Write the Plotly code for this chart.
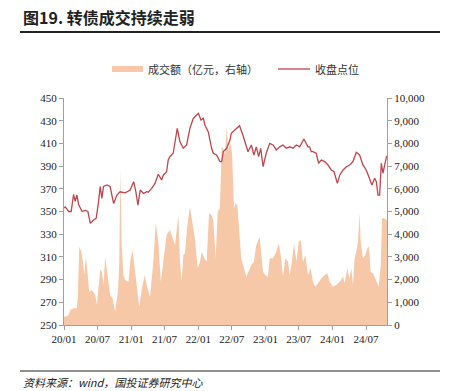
import plotly.graph_objects as go

# ---- Data: closing index level (left axis) ----
idx_dates = [
    "2020-01-01", "2020-01-08", "2020-01-26", "2020-02-09", "2020-02-22", "2020-03-02", "2020-03-11",
    "2020-03-21", "2020-04-08", "2020-04-26", "2020-05-10", "2020-05-23", "2020-06-10", "2020-06-24",
    "2020-07-07", "2020-07-16", "2020-07-25", "2020-08-03", "2020-08-21", "2020-09-08", "2020-09-27",
    "2020-10-15", "2020-11-01", "2020-11-29", "2020-12-26", "2021-01-14", "2021-01-26", "2021-02-06",
    "2021-02-19", "2021-03-09", "2021-03-27", "2021-04-03", "2021-04-22", "2021-05-10", "2021-05-28",
    "2021-06-15", "2021-06-24", "2021-07-12", "2021-07-21", "2021-07-30", "2021-08-17", "2021-08-27",
    "2021-09-08", "2021-09-23", "2021-10-11", "2021-10-29", "2021-11-16", "2021-12-04", "2021-12-23",
    "2022-01-01", "2022-01-15", "2022-01-28", "2022-02-06", "2022-02-24", "2022-03-14", "2022-03-23",
    "2022-04-10", "2022-04-28", "2022-05-08", "2022-05-16", "2022-06-04", "2022-06-22", "2022-06-29",
    "2022-07-17", "2022-08-13", "2022-08-31", "2022-09-18", "2022-09-28", "2022-10-16", "2022-10-30",
    "2022-11-12", "2022-11-25", "2022-12-06", "2022-12-19", "2023-01-05", "2023-01-24", "2023-02-11",
    "2023-03-01", "2023-03-19", "2023-04-06", "2023-04-24", "2023-05-13", "2023-05-31", "2023-06-18",
    "2023-07-06", "2023-07-29", "2023-08-20", "2023-08-29", "2023-09-07", "2023-09-16", "2023-10-04",
    "2023-10-17", "2023-11-01", "2023-11-19", "2023-12-07", "2023-12-25", "2024-01-09", "2024-01-27",
    "2024-02-09", "2024-02-27", "2024-03-16", "2024-04-03", "2024-04-21", "2024-05-09", "2024-05-27",
    "2024-06-14", "2024-07-02", "2024-07-21", "2024-08-02", "2024-08-17", "2024-08-26", "2024-09-04",
    "2024-09-13", "2024-09-22", "2024-10-01", "2024-10-21",
]
idx_values = [
    353, 354, 350, 350, 365, 359, 364.5,
    356, 350, 351, 350, 339.6, 342.5, 344,
    358.7, 372, 361.6, 372, 373.4, 372, 357,
    364.5, 367.4, 366.5, 369, 376.3, 367.4, 355.7,
    369, 366, 367.4, 367, 370.4, 374.8, 382.8,
    377.8, 382, 385, 395.4, 398.3, 401.3, 410,
    423.3, 411.5, 405.7, 408.6, 423.3, 432, 435,
    436.5, 430.6, 432, 426, 420, 405.7, 401.3,
    399.8, 394, 394, 402.7, 405.7, 413, 418.9,
    421.8, 425.6, 417.4, 408.6, 402.7, 408.6, 399.8,
    407, 398.3, 405.7, 389.5, 401.3, 410, 408.6,
    404.2, 407, 408.6, 405.7, 407, 405.7, 408.6,
    407, 413.9, 407, 407, 402.7, 402.7, 401.3,
    392.5, 395.4, 394, 391, 386.6, 385, 374.8,
    382, 386.6, 389.5, 391, 394, 402.2, 399.8,
    391, 386.6, 379.3, 373.4, 379.3, 376.3, 364.5,
    364.5, 392.5, 383.7, 399,
]

# ---- Data: turnover, 100 million yuan (right axis) ----
vol_dates = [
    "2020-01-01", "2020-01-08", "2020-01-26", "2020-02-04", "2020-02-22", "2020-03-11", "2020-03-17",
    "2020-03-24", "2020-04-04", "2020-04-13", "2020-04-20", "2020-04-29", "2020-05-09", "2020-05-17",
    "2020-06-01", "2020-06-19", "2020-06-28", "2020-07-07", "2020-07-16", "2020-07-25", "2020-08-03",
    "2020-08-12", "2020-08-21", "2020-08-30", "2020-09-08", "2020-09-21", "2020-10-05", "2020-10-20",
    "2020-10-27", "2020-11-03", "2020-11-10", "2020-11-19", "2020-11-28", "2020-12-17", "2020-12-26",
    "2021-01-08", "2021-01-19", "2021-02-01", "2021-02-13", "2021-02-28", "2021-03-15", "2021-03-26",
    "2021-04-13", "2021-05-01", "2021-05-14", "2021-05-28", "2021-06-11", "2021-06-24", "2021-07-12",
    "2021-07-30", "2021-08-08", "2021-08-27", "2021-09-14", "2021-09-23", "2021-10-02", "2021-10-11",
    "2021-10-20", "2021-11-01", "2021-11-16", "2021-11-25", "2021-12-13", "2021-12-28", "2022-01-10",
    "2022-01-19", "2022-02-02", "2022-02-15", "2022-02-28", "2022-03-14", "2022-03-23", "2022-04-05",
    "2022-04-16", "2022-04-28", "2022-05-08", "2022-05-16", "2022-05-26", "2022-06-04", "2022-06-13",
    "2022-06-22", "2022-07-03", "2022-07-14", "2022-07-21", "2022-08-01", "2022-08-13", "2022-08-22",
    "2022-09-06", "2022-09-18", "2022-10-01", "2022-10-16", "2022-10-30", "2022-11-12", "2022-11-30",
    "2022-12-09", "2022-12-19", "2022-12-31", "2023-01-14", "2023-01-24", "2023-02-11", "2023-03-01",
    "2023-03-14", "2023-03-25", "2023-04-06", "2023-04-19", "2023-05-04", "2023-05-13", "2023-05-25",
    "2023-06-05", "2023-06-18", "2023-07-01", "2023-07-12", "2023-07-24", "2023-08-06", "2023-08-20",
    "2023-09-04", "2023-09-16", "2023-09-29", "2023-10-14", "2023-11-01", "2023-11-19", "2023-12-03",
    "2023-12-16", "2024-01-03", "2024-01-21", "2024-02-09", "2024-02-27", "2024-03-07", "2024-03-21",
    "2024-04-01", "2024-04-12", "2024-04-21", "2024-04-30", "2024-05-09", "2024-05-18", "2024-05-27",
    "2024-06-02", "2024-06-14", "2024-06-27", "2024-07-08", "2024-07-17", "2024-07-26", "2024-08-08",
    "2024-08-26", "2024-09-08", "2024-09-19", "2024-09-26", "2024-10-07", "2024-10-23",
]
vol_values = [
    366, 366, 440, 661, 734, 734, 1321,
    3450, 3230, 2790, 2200, 3010, 2200, 1470,
    1540, 1320, 880, 1615, 2420, 2350, 1760,
    3010, 2500, 1910, 1320, 1175, 587, 1470,
    2500, 6830, 3520, 2200, 1980, 1910, 2790,
    3300, 2500, 1615, 808, 1615, 2200, 1760,
    1250, 2790, 4480, 3670, 1910, 2790, 3960,
    4185, 3960, 3520, 4850, 2790, 1910, 3080,
    3160, 4330, 5210, 4770, 3820, 2500, 2790,
    3230, 2940, 2790, 4920, 4850, 4625, 2940,
    4990, 5140, 7850, 7780, 7490, 8735, 7630,
    8075, 7560, 5140, 5360, 5290, 3960, 2940,
    2500, 2130, 2350, 2640, 2790, 3520, 3890,
    3230, 2350, 2200, 2130, 2940, 2940, 3230,
    3600, 3080, 2130, 2940, 2790, 2200, 2790,
    3600, 2790, 3670, 3740, 2790, 3080, 2200,
    2500, 1910, 1690, 1835, 2055, 2200, 2280,
    1910, 1690, 1760, 1910, 2130, 1835, 2500,
    2055, 2500, 1760, 2940, 3230, 3670, 4920,
    3670, 2940, 3080, 3380, 3450, 2350, 2280,
    1980, 1690, 2640, 4700, 4700, 4625,
]

tick_dates = ["2020-01-01", "2020-07-01", "2021-01-01", "2021-07-01", "2022-01-01",
              "2022-07-01", "2023-01-01", "2023-07-01", "2024-01-01", "2024-07-01"]
tick_labels = ["20/01", "20/07", "21/01", "21/07", "22/01", "22/07", "23/01", "23/07", "24/01", "24/07"]

series_names = ["成交额（亿元，右轴）", "收盘点位"]
title_text = "图19. 转债成交持续走弱"
source_text = "资料来源：wind，国投证券研究中心"

AREA_COLOR = "#F6C8A7"
LINE_COLOR = "#C0454C"
SERIF = "Liberation Serif"
CJK = "Noto Sans CJK SC"

W, H = 459, 391
L, R, T, B = 64, 72, 98, 66
PW, PH = W - L - R, H - T - B


def px(x):
    return (x - L) / PW


def py(y):
    return (H - B - y) / PH


fig = go.Figure()
fig.add_trace(go.Scatter(
    x=vol_dates, y=vol_values, mode="lines", fill="tozeroy",
    line=dict(width=0, color=AREA_COLOR), fillcolor=AREA_COLOR,
    name=series_names[0], yaxis="y", showlegend=False, hoverinfo="skip",
))
fig.add_trace(go.Scatter(
    x=idx_dates, y=idx_values, mode="lines",
    line=dict(width=1.3, color=LINE_COLOR),
    name=series_names[1], yaxis="y2", showlegend=False, hoverinfo="skip",
))

axis_common = dict(
    showgrid=False, zeroline=False, showline=True, linecolor="#A0A0A0", linewidth=1,
    ticks="outside", ticklen=4, tickcolor="#A0A0A0",
    tickfont=dict(family=SERIF, size=11, color="#222222"),
)

fig.update_layout(
    width=W, height=H,
    margin=dict(l=L, r=R, t=T, b=B, autoexpand=False),
    paper_bgcolor="white", plot_bgcolor="white",
    xaxis=dict(type="date", range=["2020-01-01", "2024-10-23"],
               tickvals=tick_dates, ticktext=tick_labels, **axis_common),
    yaxis=dict(side="right", range=[0, 10000], tick0=0, dtick=1000, tickformat=",",
               **axis_common),
    yaxis2=dict(side="left", overlaying="y", range=[250, 450], tick0=250, dtick=20,
                **axis_common),
)

shapes = [
    dict(type="line", xref="paper", yref="paper", x0=px(20), x1=px(440), y0=py(32), y1=py(32),
         line=dict(color="#222222", width=2)),
    dict(type="line", xref="paper", yref="paper", x0=px(20), x1=px(440), y0=py(371), y1=py(371),
         line=dict(color="#222222", width=1.2)),
    dict(type="rect", xref="paper", yref="paper", x0=px(112), x1=px(143), y0=py(72), y1=py(66),
         fillcolor=AREA_COLOR, line=dict(width=0)),
    dict(type="line", xref="paper", yref="paper", x0=px(278), x1=px(310), y0=py(69), y1=py(69),
         line=dict(color=LINE_COLOR, width=1.3)),
]
annotations = [
    dict(text=f"<b>{title_text}</b>", xref="paper", yref="paper", x=px(21), y=py(17),
         xanchor="left", yanchor="middle", showarrow=False,
         font=dict(family=CJK, size=16, color="#222222")),
    dict(text=series_names[0], xref="paper", yref="paper", x=px(146), y=py(69),
         xanchor="left", yanchor="middle", showarrow=False,
         font=dict(family=CJK, size=11, color="#333333")),
    dict(text=series_names[1], xref="paper", yref="paper", x=px(313), y=py(69),
         xanchor="left", yanchor="middle", showarrow=False,
         font=dict(family=CJK, size=11, color="#333333")),
    dict(text=source_text, xref="paper", yref="paper", x=px(21), y=py(382),
         xanchor="left", yanchor="middle", showarrow=False,
         font=dict(family=CJK, size=11, color="#222222", style="italic")),
]
fig.update_layout(shapes=shapes, annotations=annotations)

fig.write_html("out.html", config={"displayModeBar": False},
               post_script="document.body.style.margin='0';")
